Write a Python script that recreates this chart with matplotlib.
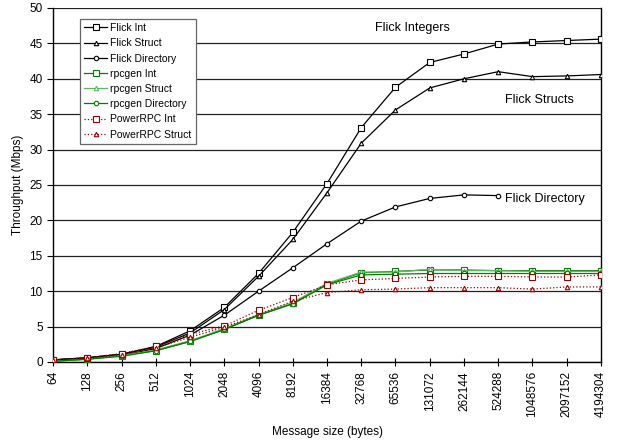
import matplotlib
matplotlib.use("Agg")
import matplotlib.pyplot as plt

# ── Datos ──────────────────────────────────────────────
sizes = ["64", "128", "256", "512", "1024", "2048", "4096", "8192", "16384",
         "32768", "65536", "131072", "262144", "524288", "1048576",
         "2097152", "4194304"]

flick_int = [0.3, 0.6, 1.1, 2.2, 4.4, 7.7, 12.5, 18.3, 25.2, 33.1, 38.8,
             42.3, 43.5, 44.9, 45.2, 45.4, 45.6]
flick_struct = [0.3, 0.6, 1.1, 2.1, 4.1, 7.4, 12.1, 17.3, 23.9, 30.9, 35.6,
                38.7, 40.0, 41.0, 40.3, 40.4, 40.6]
flick_dir = [0.3, 0.5, 0.9, 1.9, 3.8, 6.6, 10.0, 13.3, 16.7, 19.9, 21.9,
             23.1, 23.6, 23.5]
rpcgen_int = [0.1, 0.4, 0.9, 1.6, 2.9, 4.6, 6.6, 8.3, 11.0, 12.6, 12.8,
              13.0, 13.0, 12.9, 12.9, 12.9, 12.9]
rpcgen_struct = [0.1, 0.4, 0.9, 1.7, 3.0, 4.7, 6.7, 8.4, 11.1, 12.7, 12.7,
                 13.1, 12.9, 12.9, 12.8, 12.8, 12.8]
rpcgen_dir = [0.1, 0.4, 0.8, 1.6, 2.9, 4.6, 6.6, 8.2, 10.9, 12.3, 12.4,
              12.5, 12.5, 12.5, 12.5, 12.5, 12.5]
power_int = [0.3, 0.6, 1.2, 2.2, 3.9, 5.1, 7.3, 9.1, 10.9, 11.6, 11.8,
             12.0, 12.1, 12.1, 12.0, 12.0, 12.3]
power_struct = [0.3, 0.5, 1.0, 2.0, 3.5, 4.9, 6.7, 8.6, 9.8, 10.2, 10.3,
                10.5, 10.5, 10.5, 10.3, 10.6, 10.6]

GREEN = "#008000"
LGREEN = "#5cb85c"
RED = "#990000"

plt.rcParams.update({
    "font.family": ["Liberation Sans", "DejaVu Sans"],
    "font.size": 8.5,
})

fig = plt.figure(figsize=(6.17, 4.42), dpi=100)
ax = fig.add_axes([0.086, 0.181, 0.888, 0.801])

def serie(vals, label, color, marker, ms, ls="-", mfc="white"):
    x = list(range(len(vals)))
    ax.plot(x, vals, ls, color=color, marker=marker, ms=ms, mfc=mfc,
            mec=color, mew=0.8, lw=0.9, label=label, zorder=3)

serie(flick_int, "Flick Int", "black", "s", 3.8)
serie(flick_struct, "Flick Struct", "black", "^", 3.2)
serie(flick_dir, "Flick Directory", "black", "o", 3.2)
serie(rpcgen_int, "rpcgen Int", GREEN, "s", 3.8)
serie(rpcgen_struct, "rpcgen Struct", LGREEN, "^", 3.2)
serie(rpcgen_dir, "rpcgen Directory", GREEN, "o", 3.2)
serie(power_int, "PowerRPC Int", RED, "s", 3.8, ls=":")
serie(power_struct, "PowerRPC Struct", RED, "^", 3.2, ls=":")

ax.set_xlim(0, len(sizes) - 1)
ax.set_ylim(0, 50)
ax.set_xticks(range(len(sizes)))
ax.set_xticklabels(sizes, rotation=90)
ax.set_yticks(range(0, 51, 5))
ax.yaxis.grid(True, color="#222222", lw=0.9)
ax.set_axisbelow(True)
ax.tick_params(axis="x", direction="inout", length=6, width=0.8)
ax.tick_params(axis="y", direction="out", length=4, width=0.8)
ax.spines["top"].set_visible(False)
for s in ("left", "bottom", "right"):
    ax.spines[s].set_linewidth(1.0)

ax.set_xlabel("Message size (bytes)", labelpad=6)
ax.set_ylabel("Throughput (Mbps)", labelpad=4)

ax.text(9.4, 47.1, "Flick Integers", fontsize=9, va="center", ha="left")
ax.text(13.2, 37.0, "Flick Structs", fontsize=9, va="center", ha="left")
ax.text(13.2, 23.0, "Flick Directory", fontsize=9, va="center", ha="left")

leg = ax.legend(loc="upper left", bbox_to_anchor=(0.049, 0.969),
                borderaxespad=0, fontsize=7.5, fancybox=False,
                framealpha=1, edgecolor="#666666", handlelength=2.2,
                handletextpad=0.3, labelspacing=0.5, borderpad=0.4)
leg.get_frame().set_linewidth(0.9)

fig.savefig("out.png")
